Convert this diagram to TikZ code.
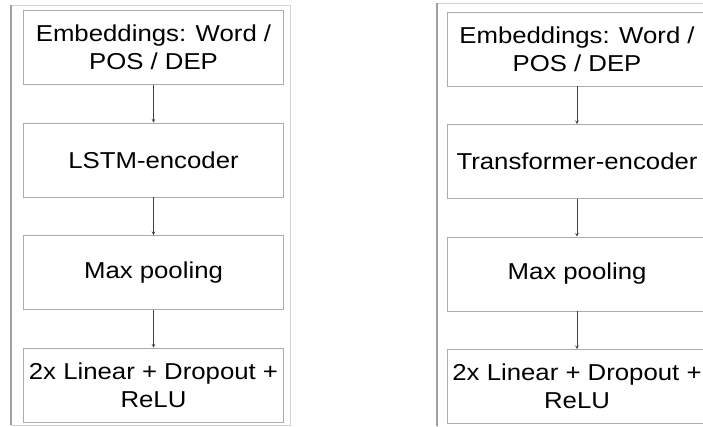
\documentclass[tikz,border=0pt]{standalone}
\usepackage{fontspec}
\setmainfont{Liberation Sans}[FakeStretch=1.12]
\usetikzlibrary{positioning, arrows}
\tikzstyle{block} = [rectangle, minimum width=260pt, minimum height=74pt, inner sep=0pt, text centered, align=center, draw=gray!65, line width=0.8pt, font=\fontsize{23}{28}\selectfont]
\tikzstyle{arrow} = [->, >=stealth, draw=black!75, line width=0.6pt]
\tikzstyle{frame} = [draw=gray!35, line width=0.8pt]
\tikzstyle{frameside} = [draw=gray!75, line width=1.4pt]

\begin{document}
\begin{tikzpicture}[node distance=112.5pt, x=1pt, y=-1pt]
\useasboundingbox (0,0) rectangle (703,426);
% panel frames
\draw [frame] (11,5) rectangle (290,425);
\draw [frameside] (11,5) -- (11,425);
\draw [frame] (437,3) rectangle (720,440);
\draw [frameside] (437,3) -- (437,426);

% LSTM model
\node (embL) [block] at (153.5,47.5) {Embeddings: Word /\\POS / DEP};
\node (lstm) [block, below of=embL] {LSTM-encoder};
\node (poolL) [block, below of=lstm] {Max pooling};
\node (linL) [block, below of=poolL] {2x Linear + Dropout +\\ReLU};
\draw [arrow] (embL) -- (lstm);
\draw [arrow] (lstm) -- (poolL);
\draw [arrow] (poolL) -- (linL);

% Transformer model
\node (embR) [block, right of=embL, xshift=311pt, yshift=-1.5pt] {Embeddings: Word /\\POS / DEP};
\node (trans) [block, below of=embR] {Transformer-encoder};
\node (poolR) [block, below of=trans] {Max pooling};
\node (linR) [block, below of=poolR] {2x Linear + Dropout +\\ReLU};
\draw [arrow] (embR) -- (trans);
\draw [arrow] (trans) -- (poolR);
\draw [arrow] (poolR) -- (linR);
\end{tikzpicture}
\end{document}
